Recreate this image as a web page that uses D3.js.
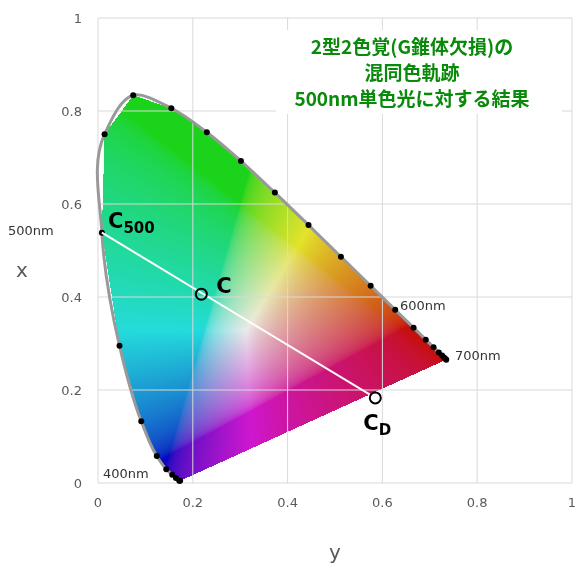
<!DOCTYPE html>
<html><head><meta charset="utf-8">
<script src="https://cdn.jsdelivr.net/npm/d3@7"></script>
<style>body{margin:0;background:#fff}svg,canvas{position:absolute;left:0;top:0}</style>
</head><body>
<canvas id="cv" width="585" height="568"></canvas>
<svg id="chart" width="585" height="568"></svg>
<script>
// spectral locus, 10nm steps (x, y)
const wavelengths = [380,400,420,440,450,460,470,480,490,500,510,520,530,540,550,560,570,580,590,600,610,620,630,640,650,660,680,700];
const locusX = [0.1741,0.1733,0.1714,0.1644,0.1566,0.1440,0.1241,0.0913,0.0454,0.0082,0.0139,0.0743,0.1547,0.2296,0.3016,0.3731,0.4441,0.5125,0.5752,0.6270,0.6658,0.6915,0.7079,0.7190,0.7260,0.7300,0.7334,0.7347];
const locusY = [0.0050,0.0048,0.0051,0.0109,0.0177,0.0297,0.0578,0.1327,0.2950,0.5384,0.7502,0.8338,0.8059,0.7543,0.6923,0.6245,0.5547,0.4866,0.4242,0.3725,0.3340,0.3083,0.2920,0.2809,0.2740,0.2700,0.2666,0.2653];
const ticks = [0, 0.2, 0.4, 0.6, 0.8, 1];
const confusionLine = [[0.0082, 0.5384], [0.585, 0.183]];
const pointC = [0.218, 0.406];

const margin = {left: 98, top: 18, right: 13, bottom: 85};
const W = 585, H = 568;
const xs = d3.scaleLinear().domain([0, 1]).range([margin.left, W - margin.right]);
const ys = d3.scaleLinear().domain([0, 1]).range([H - margin.bottom, margin.top]);
const svg = d3.select('#chart');

// grid
const grid = svg.append('g');
grid.selectAll('.vx').data(ticks).enter().append('line')
  .attr('x1', d => xs(d)).attr('x2', d => xs(d)).attr('y1', ys(0)).attr('y2', ys(1))
  .attr('stroke', '#d9d9d9');
grid.selectAll('.hy').data(ticks).enter().append('line')
  .attr('y1', d => ys(d)).attr('y2', d => ys(d)).attr('x1', xs(0)).attr('x2', xs(1))
  .attr('stroke', '#d9d9d9');

// chromaticity fill on canvas, clipped to locus polygon
const poly = locusX.map((x, i) => [xs(x), ys(locusY[i])]);
const ctx = document.getElementById('cv').getContext('2d');
const img = ctx.createImageData(W, H);
const gam = v => v <= 0.0031308 ? 12.92 * v : 1.055 * Math.pow(v, 1 / 2.4) - 0.055;
for (let py = 0; py < H; py++) {
  for (let px = 0; px < W; px++) {
    if (!d3.polygonContains(poly, [px + 0.5, py + 0.5])) continue;
    const cx = xs.invert(px + 0.5), cy = ys.invert(py + 0.5);
    const X = cx / cy, Y = 1, Z = (1 - cx - cy) / cy;
    let r = 3.2406 * X - 1.5372 * Y - 0.4986 * Z;
    let g = -0.9689 * X + 1.8758 * Y + 0.0415 * Z;
    let b = 0.0557 * X - 0.2040 * Y + 1.0570 * Z;
    r = Math.max(r, 0); g = Math.max(g, 0); b = Math.max(b, 0);
    const m = Math.max(r, g, b) || 1;
    let c = [gam(r / m), gam(g / m), gam(b / m)];
    const l = 0.3 * c[0] + 0.55 * c[1] + 0.15 * c[2];
    c = c.map(v => 0.92 * (0.78 * v + 0.22 * l));
    const k = (py * W + px) * 4;
    img.data[k] = 255 * c[0];
    img.data[k + 1] = 255 * c[1];
    img.data[k + 2] = 255 * c[2];
    img.data[k + 3] = 255;
  }
}
ctx.putImageData(img, 0, 0);

// locus outline
const curve = d3.line().x(d => xs(d[0])).y(d => ys(d[1])).curve(d3.curveMonotoneY);
svg.append('path').datum(locusX.map((x, i) => [x, locusY[i]]))
  .attr('d', d3.line().x(d => xs(d[0])).y(d => ys(d[1])).curve(d3.curveCatmullRom.alpha(1)))
  .attr('fill', 'none').attr('stroke', '#999').attr('stroke-width', 3);
svg.selectAll('.dot').data(locusX.slice(1)).enter().append('circle')
  .attr('cx', d => xs(d)).attr('cy', (d, i) => ys(locusY[i + 1])).attr('r', 3).attr('fill', '#000');

// axes labels
const lab = svg.append('g').attr('font-family', 'DejaVu Sans, sans-serif').attr('font-size', 13).attr('fill', '#595959');
lab.selectAll('.tx').data(ticks).enter().append('text')
  .attr('x', d => xs(d)).attr('y', ys(0) + 24).attr('text-anchor', 'middle').text(d => d);
lab.selectAll('.ty').data(ticks).enter().append('text')
  .attr('x', xs(0) - 16).attr('y', d => ys(d) + 5).attr('text-anchor', 'end').text(d => d);
svg.append('text').attr('x', xs(0.5)).attr('y', 559).attr('text-anchor', 'middle')
  .attr('font-family', 'DejaVu Sans, sans-serif').attr('font-size', 20).attr('fill', '#595959').text('y');
svg.append('text').attr('x', 22).attr('y', ys(0.5) + 26).attr('text-anchor', 'middle')
  .attr('font-family', 'DejaVu Sans, sans-serif').attr('font-size', 20).attr('fill', '#595959').text('x');

// wavelength labels
const wl = svg.append('g').attr('font-family', 'DejaVu Sans, sans-serif').attr('font-size', 13).attr('fill', '#333');
wl.append('text').attr('x', 8).attr('y', ys(0.5384) + 2).text('500nm');
wl.append('text').attr('x', 400).attr('y', 310).text('600nm');
wl.append('text').attr('x', 455).attr('y', 360).text('700nm');
wl.append('text').attr('x', 103).attr('y', ys(0) - 5).text('400nm');

// confusion line
svg.append('line')
  .attr('x1', xs(confusionLine[0][0])).attr('y1', ys(confusionLine[0][1]))
  .attr('x2', xs(confusionLine[1][0])).attr('y2', ys(confusionLine[1][1]))
  .attr('stroke', '#fff').attr('stroke-width', 2);
svg.selectAll('.cp').data([pointC, confusionLine[1]]).enter().append('circle')
  .attr('cx', d => xs(d[0])).attr('cy', d => ys(d[1])).attr('r', 5.5)
  .attr('fill', 'none').attr('stroke', '#000').attr('stroke-width', 2);

const big = svg.append('g').attr('font-family', 'DejaVu Sans, sans-serif').attr('font-weight', 'bold').attr('fill', '#000');
const t500 = big.append('text').attr('x', 108).attr('y', 228).attr('font-size', 21);
t500.append('tspan').text('C');
t500.append('tspan').attr('font-size', 15).attr('dy', 5).text('500');
big.append('text').attr('x', xs(pointC[0]) + 15).attr('y', ys(pointC[1]) - 1).attr('font-size', 21).text('C');
const td = big.append('text').attr('x', xs(confusionLine[1][0]) - 12).attr('y', ys(confusionLine[1][1]) + 32).attr('font-size', 21);
td.append('tspan').text('C');
td.append('tspan').attr('font-size', 15).attr('dy', 5).text('D');

// title
svg.append('rect').attr('x', 276).attr('y', 30).attr('width', 286).attr('height', 84).attr('fill', '#fff');
svg.append('g').attr('font-family', 'Noto Sans CJK JP, sans-serif').attr('font-weight', 'bold')
  .attr('font-size', 19).attr('fill', '#0a8a0a').attr('text-anchor', 'middle')
  .selectAll('text').data(['2型2色覚(G錐体欠損)の', '混同色軌跡', '500nm単色光に対する結果']).enter()
  .append('text').attr('x', 412).attr('y', (d, i) => 54 + i * 26).text(d => d);
</script>
</body></html>
